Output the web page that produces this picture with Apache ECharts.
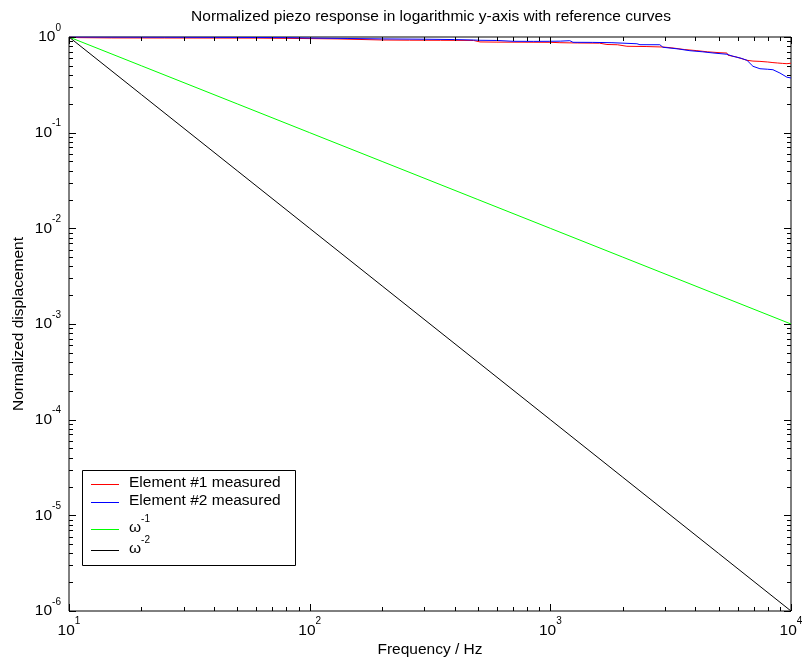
<!DOCTYPE html>
<html>
<head>
<meta charset="utf-8">
<title>Normalized piezo response</title>
<script src="https://cdn.jsdelivr.net/npm/echarts@6/dist/echarts.min.js"></script>
<style>
  html, body { margin: 0; padding: 0; background: #fff; }
  #chart { width: 802px; height: 660px; }
</style>
</head>
<body>
<div id="chart"></div>
<script>
// ---- measured frequency response, element #1 ----
const freqEl1 = [10, 11, 15, 25, 40, 60, 91, 130, 201, 260, 350, 480, 510, 600, 800, 1000,
  1096, 1300, 1600, 1719, 1900, 2080, 2500, 2937, 3200, 3600, 4064, 4500, 5070, 5415, 5470,
  5900, 6561, 6950, 7430, 8000, 8414, 8800, 9200, 9620, 10000];
const ampEl1 = [1.0, 0.985, 0.978, 0.976, 0.975, 0.974, 0.965, 0.955, 0.93, 0.926, 0.924, 0.92,
  0.888, 0.884, 0.882, 0.88, 0.872, 0.866, 0.862, 0.835, 0.83, 0.80, 0.795, 0.786, 0.77, 0.74,
  0.72, 0.70, 0.685, 0.68, 0.645, 0.62, 0.571, 0.56, 0.556, 0.548, 0.54, 0.535, 0.53, 0.526, 0.532];

// ---- measured frequency response, element #2 ----
const freqEl2 = [10, 14, 25, 50, 80, 100, 143, 201, 300, 400, 480, 510, 600, 700, 850, 995,
  1100, 1205, 1242, 1500, 1803, 1820, 2290, 2357, 2852, 2937, 3400, 3802, 4300, 4737, 5415,
  5737, 6200, 6561, 6950, 7430, 8000, 8414, 8995, 9620, 10000];
const ampEl2 = [1.0, 0.998, 0.995, 0.99, 0.985, 0.975, 0.965, 0.955, 0.948, 0.94, 0.93, 0.924,
  0.92, 0.902, 0.9, 0.902, 0.905, 0.915, 0.88, 0.878, 0.872, 0.851, 0.85, 0.831, 0.83, 0.781,
  0.75, 0.719, 0.70, 0.681, 0.66, 0.629, 0.6, 0.571, 0.494, 0.466, 0.46, 0.455, 0.42, 0.38, 0.373];

// ---- reference slopes ----
const refFreq   = [10, 20, 50, 100, 200, 500, 1000, 2000, 5000, 10000];
const refOmega1 = [1, 0.5, 0.2, 0.1, 0.05, 0.02, 0.01, 0.005, 0.002, 0.001];
const refOmega2 = [1, 0.25, 0.04, 0.01, 0.0025, 0.0004, 0.0001, 0.000025, 0.000004, 0.000001];

// ---- axis decades ----
const xDecades = [10, 100, 1000, 10000];
const yDecades = [1e-6, 1e-5, 1e-4, 1e-3, 1e-2, 1e-1, 1];

const seriesNames = ['Element #1 measured', 'Element #2 measured', 'ω-1', 'ω-2'];
const seriesColors = ['#ff0000', '#0000ff', '#00ff00', '#000000'];

const FONT = '"Liberation Sans", Arial, Helvetica, sans-serif';
const FS = 15.5;

const zip = (xs, ys) => xs.map((x, i) => [x, ys[i]]);

// minor tick positions (2..9 within each decade)
function minorTicks(decades) {
  const out = [];
  for (let d = 0; d < decades.length - 1; d++) {
    for (let k = 2; k <= 9; k++) out.push(decades[d] * k);
  }
  return out;
}

// inward ticks on both sides of the plot box
function tickSeries(isX) {
  const majors = isX ? xDecades : yDecades;
  const minors = minorTicks(majors);
  const data = [];
  majors.forEach(v => data.push(isX ? [v, 1, 1] : [10, v, 1]));
  minors.forEach(v => data.push(isX ? [v, 1, 0] : [10, v, 0]));
  return {
    type: 'custom',
    silent: true,
    clip: false,
    z: 10,
    data: data,
    renderItem: function (params, api) {
      const cs = params.coordSys;
      const len = api.value(2) === 1 ? 7 : 4;
      const style = { stroke: '#000', lineWidth: 1 };
      if (isX) {
        const x = Math.round(api.coord([api.value(0), 1])[0]) + 0.5;
        const yb = cs.y + cs.height, yt = cs.y;
        return { type: 'group', children: [
          { type: 'line', shape: { x1: x, y1: yb, x2: x, y2: yb - len }, style: style },
          { type: 'line', shape: { x1: x, y1: yt, x2: x, y2: yt + len }, style: style }
        ] };
      } else {
        const y = Math.round(api.coord([10, api.value(1)])[1]) + 0.5;
        const xl = cs.x, xr = cs.x + cs.width;
        return { type: 'group', children: [
          { type: 'line', shape: { x1: xl, y1: y, x2: xl + len, y2: y }, style: style },
          { type: 'line', shape: { x1: xr, y1: y, x2: xr - len, y2: y }, style: style }
        ] };
      }
    }
  };
}

const powLabel = v => '{b|10}{s|' + Math.round(Math.log10(v)) + '}';

function lineSeries(i, data) {
  return {
    name: seriesNames[i],
    type: 'line',
    data: data,
    symbol: 'none',
    z: 3,
    lineStyle: { color: seriesColors[i], width: 1 },
    itemStyle: { color: seriesColors[i] }
  };
}

// legend box entries
const legendRows = [
  { y: 484.5, text: '{t|Element #1 measured}', ty: 482.5 },
  { y: 502.5, text: '{t|Element #2 measured}', ty: 500.5 },
  { y: 529.5, text: '{w|ω}{s|-1}', ty: 528 },
  { y: 550.5, text: '{w|ω}{s|-2}', ty: 549 }
];
const legendRich = {
  t: { fontSize: FS, fontFamily: FONT, color: '#000' },
  w: { fontSize: FS, fontFamily: FONT, color: '#000', lineHeight: 28 },
  s: { fontSize: 10, fontFamily: FONT, color: '#000', lineHeight: 10, verticalAlign: 'top' }
};
const legendGraphics = [{
  type: 'rect', z: 20,
  shape: { x: 82.5, y: 470.5, width: 213, height: 95 },
  style: { fill: '#fff', stroke: '#000', lineWidth: 1 }
}];
legendRows.forEach((r, i) => {
  legendGraphics.push({
    type: 'line', z: 21,
    shape: { x1: 91, y1: r.y, x2: 119, y2: r.y },
    style: { stroke: seriesColors[i], lineWidth: 1 }
  });
  legendGraphics.push({
    type: 'text', z: 21, x: 129, y: r.ty,
    style: { text: r.text, rich: legendRich, verticalAlign: 'middle', align: 'left' }
  });
});

const chart = echarts.init(document.getElementById('chart'), null, { renderer: 'canvas' });
chart.setOption({
  animation: false,
  backgroundColor: '#fff',
  title: {
    text: 'Normalized piezo response in logarithmic y-axis with reference curves',
    left: 431, top: 9, textAlign: 'center', padding: 0,
    textStyle: { fontFamily: FONT, fontSize: FS, fontWeight: 'normal', color: '#000' }
  },
  grid: {
    left: 69, right: 11, top: 37, bottom: 49,
    containLabel: false, outerBoundsMode: 'none',
    show: true, borderColor: '#000', borderWidth: 1, backgroundColor: '#fff'
  },
  xAxis: {
    type: 'log', logBase: 10, min: 10, max: 10000,
    name: 'Frequency / Hz', nameLocation: 'middle', nameGap: 31, nameMoveOverlap: false,
    nameTextStyle: { fontFamily: FONT, fontSize: FS, color: '#000' },
    axisLine: { show: false }, axisTick: { show: false }, splitLine: { show: false },
    axisLabel: {
      margin: 5, showMinLabel: true, showMaxLabel: true,
      formatter: powLabel,
      rich: {
        b: { fontFamily: FONT, fontSize: FS, color: '#000', lineHeight: 30 },
        s: { fontFamily: FONT, fontSize: 10, color: '#000', lineHeight: 10, verticalAlign: 'top' }
      }
    }
  },
  yAxis: {
    type: 'log', logBase: 10, min: 1e-6, max: 1,
    name: 'Normalized displacement', nameLocation: 'middle', nameGap: 42, nameMoveOverlap: false,
    nameTextStyle: { fontFamily: FONT, fontSize: FS, color: '#000' },
    axisLine: { show: false }, axisTick: { show: false }, splitLine: { show: false },
    axisLabel: {
      margin: 8, showMinLabel: true, showMaxLabel: true,
      formatter: powLabel,
      rich: {
        b: { fontFamily: FONT, fontSize: FS, color: '#000', lineHeight: 28 },
        s: { fontFamily: FONT, fontSize: 10, color: '#000', lineHeight: 10, verticalAlign: 'top' }
      }
    }
  },
  series: [
    lineSeries(0, zip(freqEl1, ampEl1)),
    lineSeries(1, zip(freqEl2, ampEl2)),
    lineSeries(2, zip(refFreq, refOmega1)),
    lineSeries(3, zip(refFreq, refOmega2)),
    tickSeries(true),
    tickSeries(false)
  ],
  graphic: legendGraphics
});
</script>
</body>
</html>
